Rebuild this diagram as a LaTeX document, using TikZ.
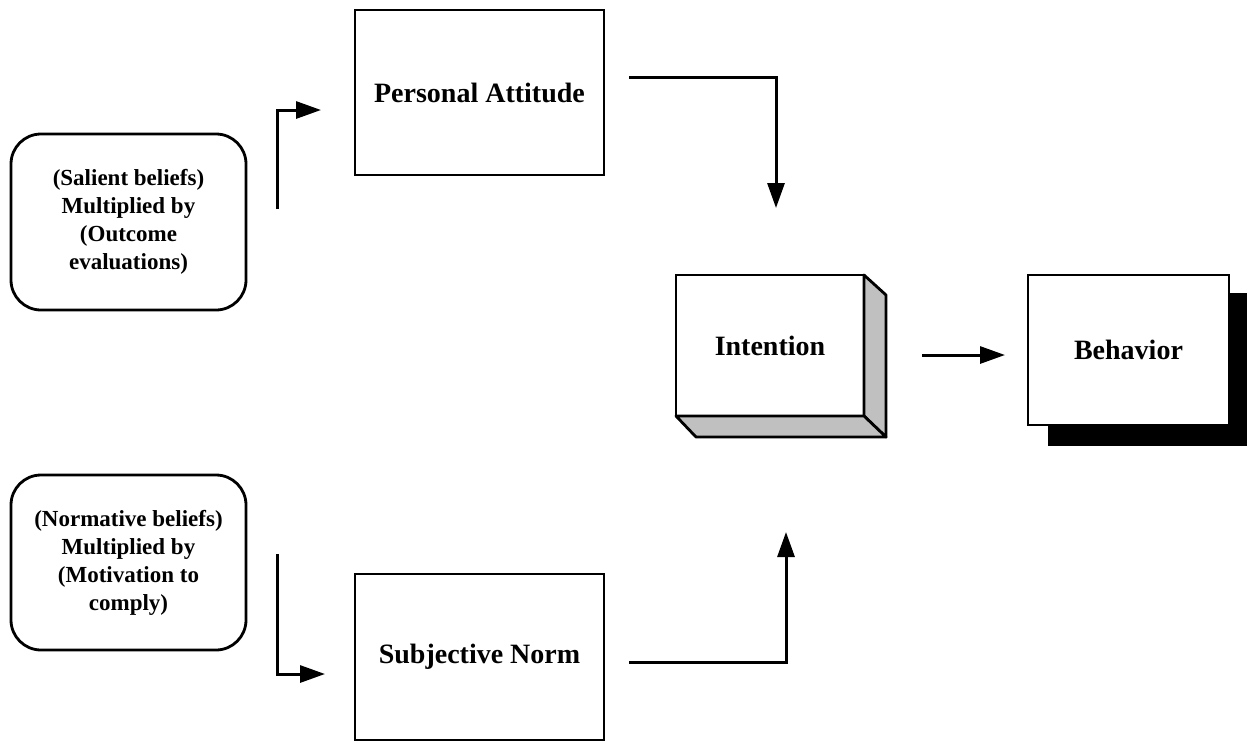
\documentclass[tikz,border=0pt]{standalone}
\usepackage{fontspec}
\setmainfont{Liberation Serif}
\usetikzlibrary{arrows.meta,calc}
\definecolor{sidegray}{HTML}{C0C0C0}
\begin{document}
\begin{tikzpicture}[x=1pt,y=-1pt,
  plainbox/.style={draw, line width=2.8pt, fill=white, inner sep=0pt, outer sep=0pt,
    font=\fontsize{28}{32}\selectfont\bfseries},
  beliefbox/.style={draw, line width=2.8pt, rounded corners=30pt, inner sep=0pt, outer sep=0pt,
    align=center, font=\fontsize{23}{28}\selectfont\bfseries},
  sideface/.style={draw, fill=sidegray, line width=2.8pt, line join=round},
  link/.style={line width=3pt, -{Triangle[length=25pt,width=17pt]}}
]
\useasboundingbox (0,0) rectangle (1247,740);

% belief boxes on the left
\node[beliefbox, minimum width=235pt, minimum height=176pt] (salient) at (128.5,222)
  {(Salient beliefs)\\Multiplied by\\(Outcome\\evaluations)};
\node[beliefbox, minimum width=235pt, minimum height=175pt] (normative) at (128.5,562.5)
  {(Normative beliefs)\\Multiplied by\\(Motivation to\\comply)};

% attitude and norm
\node[plainbox, minimum width=249pt, minimum height=165pt] (attitude) at (479.5,92.5) {Personal Attitude};
\node[plainbox, minimum width=249pt, minimum height=166pt] (norm) at (479.5,657) {Subjective Norm};

% intention as a raised block
\node[plainbox, minimum width=188pt, minimum height=141pt] (intention) at (770,345.5) {Intention};
\draw[sideface] (intention.north east) -- ++(22,20) -- ($(intention.south east)+(22,21)$)
  -- (intention.south east) -- cycle;
\draw[sideface] (intention.south west) -- (intention.south east) -- ++(22,21)
  -- ($(intention.south west)+(20,21)$) -- cycle;

% behavior with a solid shadow
\node[plainbox, minimum width=201pt, minimum height=150pt] (behavior) at (1128.5,350) {};
\fill ($(behavior.south west)+(20,21)$) rectangle ($(behavior.north east)+(20,18)$);
\node[plainbox, minimum width=201pt, minimum height=150pt] at (behavior) {Behavior};

% connector ends
\coordinate (s0) at (277,209);
\coordinate (s1) at (321,110);
\coordinate (n0) at (277,554);
\coordinate (n1) at (325,674);
\coordinate (a0) at (629,77);
\coordinate (a1) at (776,208);
\coordinate (m0) at (629,662);
\coordinate (m1) at (786,532);
\coordinate (i0) at (922,355);
\coordinate (i1) at (1005,355);

\draw[link] (s0) |- (s1);
\draw[link] (n0) |- (n1);
\draw[link] (a0) -| (a1);
\draw[link] (m0) -| (m1);
\draw[link] (i0) -- (i1);
\end{tikzpicture}
\end{document}
